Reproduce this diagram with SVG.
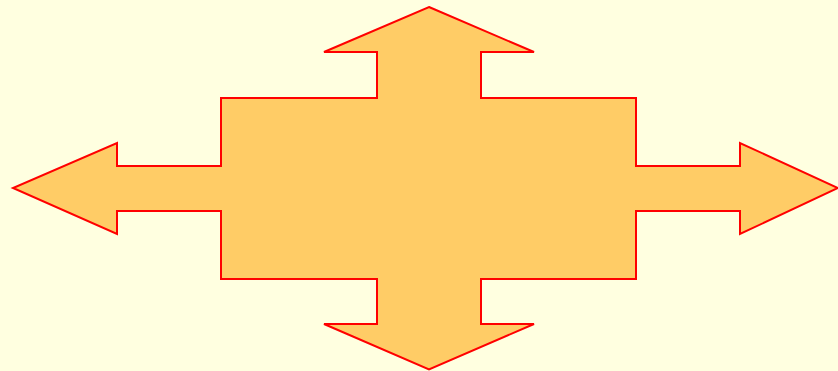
<svg xmlns="http://www.w3.org/2000/svg" width="838" height="371" viewBox="0 0 838 371">
<style>.shape{fill:#FFCC66;stroke:#FF0000;stroke-width:2;stroke-linejoin:miter}</style>
<rect width="838" height="371" fill="#FFFFE0"/>
<g id="cross-arrow">
<polygon class="shape" points="429,7 534,52 481,52 481,98 636,98 636,166 740,166 740,143 838,188 740,234 740,211 636,211 636,279 481,279 481,324 534,324 429,369.5 324,324 377,324 377,279 221,279 221,211 117,211 117,234 13,188 117,143 117,166 221,166 221,98 377,98 377,52 324,52"/>
</g>
</svg>
